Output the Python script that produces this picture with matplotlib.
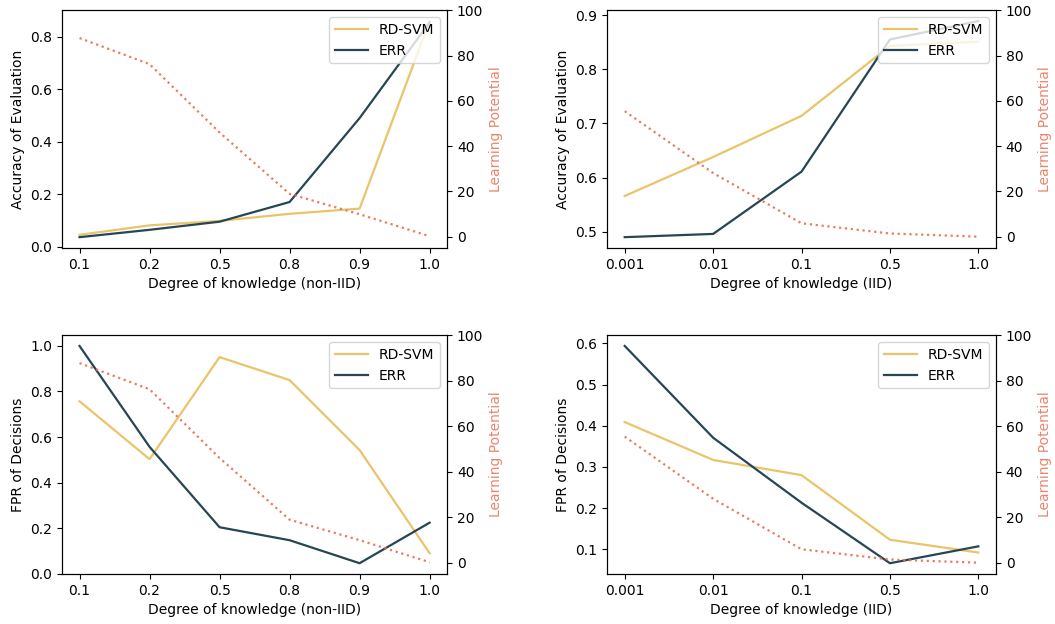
import numpy as np
import matplotlib
matplotlib.use("Agg")
import matplotlib.pyplot as plt

# x tick labels
noniid_labels = ["0.1", "0.2", "0.5", "0.8", "0.9", "1.0"]
iid_labels = ["0.001", "0.01", "0.1", "0.5", "1.0"]

# accuracy of evaluation
acc_rdsvm_noniid = [0.045, 0.081, 0.098, 0.125, 0.145, 0.86]
acc_err_noniid = [0.036, 0.064, 0.095, 0.17, 0.49, 0.855]
acc_rdsvm_iid = [0.566, 0.638, 0.714, 0.843, 0.851]
acc_err_iid = [0.490, 0.496, 0.611, 0.855, 0.889]

# FPR of decisions
fpr_rdsvm_noniid = [0.757, 0.503, 0.951, 0.85, 0.543, 0.09]
fpr_err_noniid = [1.0, 0.557, 0.204, 0.147, 0.046, 0.224]
fpr_rdsvm_iid = [0.409, 0.317, 0.280, 0.123, 0.092]
fpr_err_iid = [0.594, 0.371, 0.213, 0.066, 0.107]

# learning potential
lp_noniid = [87.7, 76.2, 46.0, 18.9, 9.9, 0.2]
lp_iid = [55.4, 28.1, 5.9, 1.4, 0.0]

c_rd = "#e9c46a"
c_err = "#264653"
c_lp = "#e76f51"


def Panel(rect, labels, rd, err, lp, ylabel, xlabel):
    ax = fig.add_axes(rect)
    x = np.arange(len(labels))
    ax.plot(x, rd, color=c_rd, lw=1.6, label="RD-SVM")
    ax.plot(x, err, color=c_err, lw=1.6, label="ERR")
    ax.set_xticks(x)
    ax.set_xticklabels(labels)
    ax.set_ylabel(ylabel)
    ax.set_xlabel(xlabel)
    ax.legend(loc="upper right", handlelength=2.4)
    ax2 = ax.twinx()
    ax2.plot(x, lp, color=c_lp, lw=1.6, ls=":", alpha=0.9)
    ax2.set_ylim(-5, 100)
    ax2.set_ylabel("Learning Potential", color=c_lp, alpha=0.85)
    return ax


fig = plt.figure(figsize=(10.55, 6.24), dpi=100)

Panel([0.0588, 0.6026, 0.365, 0.381], noniid_labels, acc_rdsvm_noniid, acc_err_noniid,
      lp_noniid, "Accuracy of Evaluation", "Degree of knowledge (non-IID)")
Panel([0.5754, 0.6026, 0.3687, 0.381], iid_labels, acc_rdsvm_iid, acc_err_iid,
      lp_iid, "Accuracy of Evaluation", "Degree of knowledge (IID)")
Panel([0.0588, 0.080, 0.365, 0.383], noniid_labels, fpr_rdsvm_noniid, fpr_err_noniid,
      lp_noniid, "FPR of Decisions", "Degree of knowledge (non-IID)")
Panel([0.5754, 0.080, 0.3687, 0.383], iid_labels, fpr_rdsvm_iid, fpr_err_iid,
      lp_iid, "FPR of Decisions", "Degree of knowledge (IID)")

fig.savefig("out.png", dpi=100)
